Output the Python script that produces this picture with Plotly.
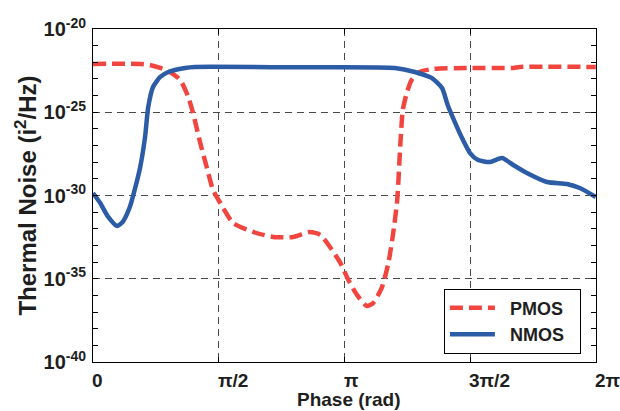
import math
import plotly.graph_objects as go

# ---- data (phase in radians, noise as log10 exponent) ----
phase_pmos = [0.00, 0.59, 0.71, 0.84, 0.96, 1.09, 1.19, 1.25, 1.34, 1.42, 1.50, 1.59, 1.75,
              2.00, 2.25, 2.50, 2.71, 2.84, 2.96, 3.09, 3.19, 3.30, 3.42, 3.50, 3.61, 3.69,
              3.75, 3.80, 3.84, 3.87, 3.92, 3.98, 4.08, 4.25, 4.67, 5.25, 5.33, 6.28]
exp_pmos = [-22.10, -22.10, -22.16, -22.34, -22.58, -23.06, -24.08, -25.05, -26.85, -28.29,
            -29.67, -30.45, -31.65, -32.19, -32.49, -32.49, -32.19, -32.37, -33.09, -34.05,
            -35.08, -35.98, -36.64, -36.46, -35.50, -34.05, -32.25, -30.27, -26.85, -24.86,
            -23.84, -23.06, -22.58, -22.40, -22.34, -22.34, -22.28, -22.28]

phase_nmos = [0.00, 0.09, 0.19, 0.30, 0.37, 0.46, 0.52, 0.59, 0.65, 0.69, 0.75, 0.84, 0.94,
              1.15, 1.27, 2.50, 3.77, 4.02, 4.23, 4.36, 4.43, 4.52, 4.61, 4.71, 4.81, 4.96,
              5.11, 5.25, 5.42, 5.67, 5.92, 6.08, 6.28]
exp_nmos = [-29.85, -30.45, -31.29, -31.83, -31.59, -30.69, -29.67, -28.29, -26.49, -24.68,
            -23.48, -22.88, -22.58, -22.34, -22.28, -22.30, -22.34, -22.58, -22.94, -23.54,
            -24.56, -25.59, -26.55, -27.45, -27.87, -27.99, -27.75, -28.17, -28.65, -29.19,
            -29.31, -29.55, -30.09]

x_tick_vals = [0, math.pi / 2, math.pi, 3 * math.pi / 2, 2 * math.pi]
x_tick_text = ["0", "π/2", "π", "3π/2", "2π"]
y_major_exps = [-40, -35, -30, -25, -20]
y_tick_text = ["10<sup>%d</sup>" % e for e in y_major_exps]
y_minor_exps = [e for e in range(-40, -19) if e not in y_major_exps]

RED = "#F0463F"
BLUE = "#2D5CA6"
FONT = "Liberation Sans"
TXT = "#1e1e1e"
NB = "\u00a0"

fig = go.Figure()
fig.add_trace(go.Scatter(
    x=phase_pmos, y=[10 ** e for e in exp_pmos], name=NB * 2 + "PMOS" + NB * 2, mode="lines",
    line=dict(color=RED, width=4.5, dash="13px,6px", shape="spline", smoothing=0.6)))
fig.add_trace(go.Scatter(
    x=phase_nmos, y=[10 ** e for e in exp_nmos], name=NB * 2 + "NMOS" + NB * 2, mode="lines",
    line=dict(color=BLUE, width=4.5, shape="spline", smoothing=0.6)))

grid = dict(gridcolor="#4a4a4a", gridwidth=1, griddash="7px,5px")

fig.update_xaxes(
    range=[0, 2 * math.pi], tickvals=x_tick_vals, ticktext=x_tick_text,
    showticklabels=False, ticks="inside", ticklen=5, tickcolor="black",
    showline=True, linecolor="black", linewidth=1, mirror="ticks",
    showgrid=True, zeroline=False, automargin=False, **grid)
fig.update_yaxes(
    type="log", range=[-40, -20],
    tickvals=[10 ** e for e in y_major_exps], ticktext=y_tick_text,
    ticks="inside", ticklen=5, tickcolor="black", ticklabelstandoff=2,
    tickfont=dict(family=FONT, size=20, color=TXT, weight="bold"),
    showline=True, linecolor="black", linewidth=1, mirror="ticks",
    showgrid=True, zeroline=False, automargin=False, **grid,
    minor=dict(tickvals=[10 ** e for e in y_minor_exps], ticks="inside", ticklen=5,
               tickcolor="black", showgrid=False))

annotations = []
for v, t in zip(x_tick_vals, x_tick_text):
    annotations.append(dict(x=v, y=0, xref="x", yref="paper", text=t, showarrow=False,
                            xanchor="left", yanchor="top", yshift=-6, xshift=-3,
                            font=dict(family=FONT, size=19, color=TXT, weight="bold")))
annotations.append(dict(x=0.507, y=-0.113, xref="paper", yref="paper", text="Phase (rad)",
                        showarrow=False, xanchor="center", yanchor="middle",
                        font=dict(family=FONT, size=19, color=TXT, weight="bold")))
annotations.append(dict(x=-0.135, y=0.5, xref="paper", yref="paper",
                        text="Thermal Noise (i<sup>2</sup>/Hz)", textangle=-90,
                        showarrow=False, xanchor="center", yanchor="middle",
                        font=dict(family=FONT, size=24, color=TXT, weight="bold")))

fig.update_layout(
    width=620, height=411,
    margin=dict(l=93, r=24, t=29, b=49, autoexpand=False),
    paper_bgcolor="white", plot_bgcolor="white",
    showlegend=True,
    legend=dict(x=0.97, y=0.123, xanchor="right", yanchor="middle",
                bgcolor="white", bordercolor="black", borderwidth=1,
                font=dict(family=FONT, size=18, color=TXT, weight="bold"),
                itemwidth=45, tracegroupgap=0),
    annotations=annotations,
)

fig.write_html(
    "out.html",
    config={"displayModeBar": False},
    post_script="document.body.style.margin='0';document.body.style.overflow='hidden';",
)
